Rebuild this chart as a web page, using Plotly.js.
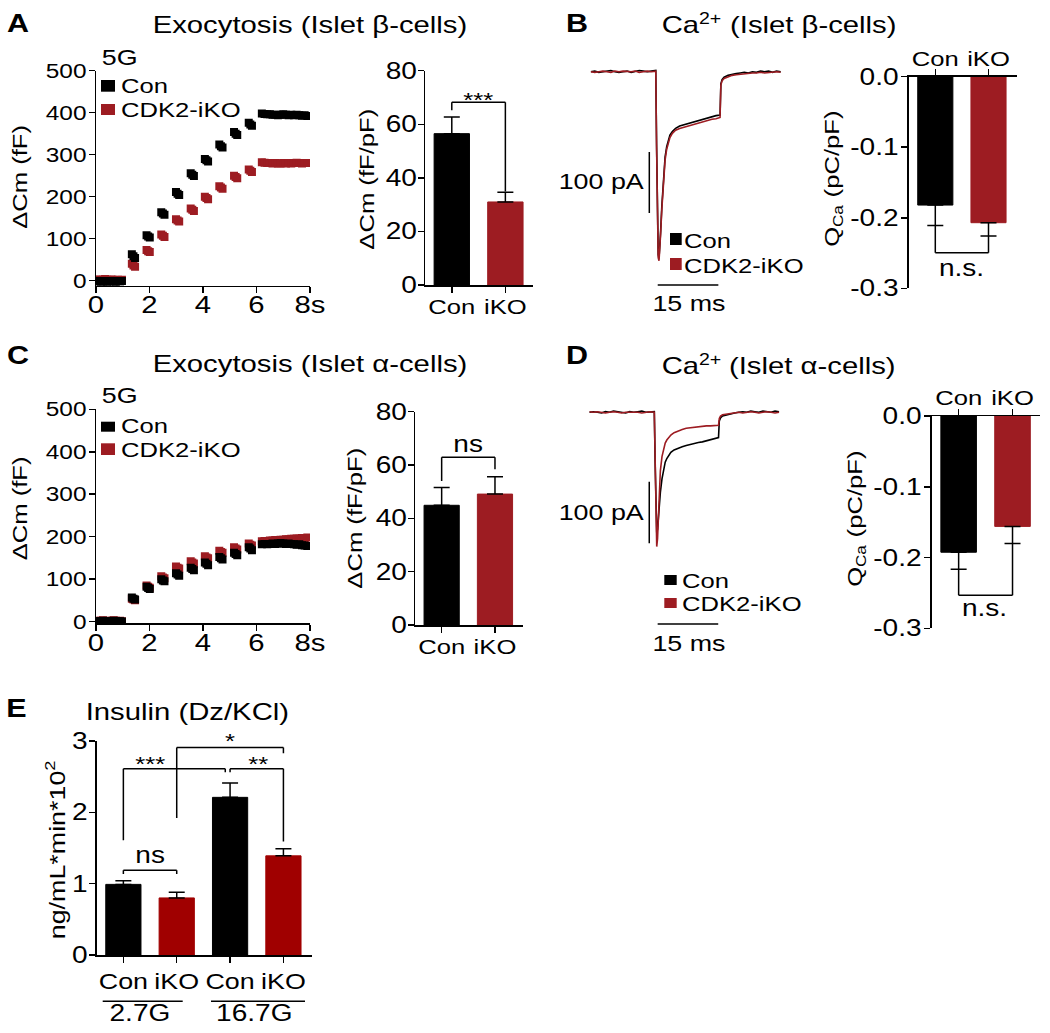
<!DOCTYPE html>
<html><head><meta charset="utf-8">
<script src="https://cdn.plot.ly/plotly-3.0.1.min.js"></script>
<style>html,body{margin:0;padding:0;background:#fff}#chart{width:1050px;height:1033px}</style>
</head><body><div id="chart"></div><script>
// ---------------- DATA ----------------
// Exocytosis (capacitance) time points, s
const exoTime = [0.02,0.1,0.18,0.26,0.34,0.42,0.5,0.58,0.66,0.74,0.82,0.9,0.97,
  1.34,1.40,1.46, 1.89,1.95,2.01, 2.44,2.50,2.56, 2.99,3.05,3.11, 3.54,3.60,3.66,
  4.07,4.13,4.19, 4.61,4.67,4.73, 5.16,5.22,5.28, 5.71,5.77,5.83,
  6.2,6.3,6.4,6.5,6.6,6.7,6.8,6.9,7.0,7.1,7.2,7.3,7.4,7.5,7.6,7.7,7.8,7.9];
// Panel A (beta cells), ΔCm fF
const exoBetaCon = [-2,-1,-3,-2,-1,-3,-2,-1,-2,-3,-1,-2,-1,
  63,58,54, 108,105,103, 163,160,157, 211,207,204, 256,252,249,
  290,287,284, 324,320,317, 354,350,347, 376,372,369,
  398,397,396,396,395,395,394,395,396,395,394,395,394,395,394,393,394,392];
const exoBetaKO = [2,3,1,2,4,2,1,3,2,1,2,1,2,
  40,36,33, 73,70,68, 110,107,104, 146,143,141, 172,169,166,
  200,197,194, 225,222,219, 250,247,244, 265,262,259,
  282,281,280,280,279,280,279,279,280,279,280,279,280,281,280,279,280,280];
// Panel C (alpha cells), ΔCm fF
const exoAlphaCon = [1,0,1,2,0,1,0,1,2,1,0,1,0,
  57,54,52, 82,79,77, 100,97,95, 114,111,108, 127,124,121,
  139,136,133, 152,149,146, 162,159,156, 175,172,168,
  182,183,182,183,184,183,184,185,184,183,184,183,182,181,182,180,179,178];
const exoAlphaKO = [2,1,2,3,1,2,1,2,3,2,1,2,1,
  54,52,50, 85,82,80, 107,104,102, 130,127,125, 142,139,137,
  154,151,149, 167,164,162, 175,172,170, 184,181,179,
  189,190,190,191,191,192,192,193,193,194,194,195,195,196,196,197,197,198];

// Bar categories and values
const groupsCK = ['Con','iKO'];
const dCmBeta = [56.5, 31.0];      const dCmBetaErr = [6.2, 3.6];
const dCmAlpha = [44.9, 49.1];     const dCmAlphaErr = [6.7, 6.5];
const qCaBeta = [-0.182, -0.207];  const qCaBetaErr = [0.029, 0.019];
const qCaAlpha = [-0.1925, -0.156];const qCaAlphaErr = [0.024, 0.024];

// Ca2+ current traces: time (ms) and current (pA)
const caTime = [0,1,2,3,4,5,6,7,8,9,10,11,12,13,14,15,16.1,
  16.3,16.5,16.7,16.9,17.1,17.3, 17.6,18.0,18.4,18.8,19.2,19.6,20.2,
  21,22,23,24,25,26,27,28,29,30,31,32, 32.2,32.5,
  33,34,35,36,37,38,39,40,41,42,43,44,45,46,47];
const caBetaCon = [0,1,-1,0,1,2,0,-1,0,1,-1,0,2,1,0,1,2,
  -120,-250,-300,-306,-290,-262, -220,-170,-140,-123,-112,-104,-98,
  -93,-89,-87,-85,-83,-81,-79,-77,-76,-74,-72,-71, -20,-13,
  -9,-6,-4,-3,-2,-1,-2,0,-1,1,0,1,-1,1,0];
const caBetaKO = [0,-1,0,1,0,-1,1,0,1,0,0,1,-1,0,1,0,1,
  -125,-255,-305,-310,-292,-266, -225,-176,-145,-127,-115,-108,-101,
  -96,-93,-91,-89,-87,-86,-84,-82,-80,-78,-77,-75, -22,-15,
  -11,-8,-6,-5,-4,-3,-3,-2,-2,-1,-2,-1,-1,0,-1];
const caAlphaCon = [0,1,0,-1,1,0,2,1,0,-1,1,0,1,2,0,1,1,
  -80,-160,-195,-190,-170,-152, -130,-108,-91,-81,-75,-70,-65,
  -61,-58,-56,-54,-52,-50,-49,-48,-46,-45,-43,-41, -14,-9,
  -6,-4,-3,-1,0,1,0,2,1,0,2,1,0,2,1];
const caAlphaKO = [1,0,1,0,-1,0,1,0,-1,0,0,1,0,-1,0,1,0,
  -95,-185,-218,-205,-165,-128, -95,-72,-58,-50,-45,-41,-37,
  -33,-30,-28,-26,-25,-24,-23,-23,-22,-22,-21,-21, -10,-6,
  -4,-3,-2,-1,0,-1,0,1,0,-1,0,1,0,-1,0];
const scaleBarPA = 100, scaleBarMS = 15;

// Panel E insulin
const insLabels = ['Con','iKO','Con','iKO'];
const insGroups = ['2.7G','16.7G'];
const insVals = [0.99, 0.80, 2.21, 1.39];
const insErr  = [0.05, 0.08, 0.20, 0.10];

const xTicksExo = [0,2,4,6,8];
const xTickTextExo = ['0','2','4','6','8s'];
const yTicksExo = [0,100,200,300,400,500];
const yTicksBar = [0,20,40,60,80];
const yTicksQ = [0,-0.1,-0.2,-0.3];
const yTickTextQ = ['0.0','-0.1','-0.2','-0.3'];

// ---------------- LAYOUT HELPERS ----------------
const FONT = 'Liberation Sans, Arial, Helvetica, sans-serif';
const W = 1050, H = 1033;
const K = 1.22; // horizontal widening of the source typeface
const px = x => x / W, py = y => 1 - y / H;
const dx = (a, b) => [px(a), px(b)];
const dy = (bottom, top) => [py(bottom), py(top)];
const RED = '#9d1c22', RED_E = '#a00000', BLACK = '#000000';
const idx = arr => arr.map((_, i) => i);

function ax(extra, fs) {
  return Object.assign({showline:true, linecolor:'#000', linewidth:1.5, ticks:'outside', ticklen:6,
    tickwidth:1.5, tickcolor:'#000', showgrid:false, zeroline:false, fixedrange:true, automargin:false,
    tickfont:{family:FONT, size:fs || 22, color:'#000'}}, extra);
}
function hidden(extra) { return Object.assign({visible:false, fixedrange:true, showgrid:false, zeroline:false}, extra); }

const traces = [];
function scat(x, y, color, xa, ya) {
  traces.push({type:'scatter', mode:'markers', x, y, xaxis:xa, yaxis:ya, showlegend:false, hoverinfo:'skip',
    marker:{symbol:'square', size:8, color, line:{width:0}}});
}
function line(x, y, color, xa, ya) {
  traces.push({type:'scatter', mode:'lines', x, y, xaxis:xa, yaxis:ya, showlegend:false, hoverinfo:'skip',
    line:{color, width:1.6}});
}
function bars(vals, err, colors, xa, ya, down, width) {
  const zeros = vals.map(() => 0);
  traces.push({type:'bar', x:idx(vals), y:vals, width:width || 0.66, xaxis:xa, yaxis:ya, showlegend:false, hoverinfo:'skip',
    marker:{color:colors, line:{color:colors, width:1}},
    error_y:{type:'data', symmetric:false, array: down ? zeros : err, arrayminus: down ? err : zeros,
      color:'#000', thickness:1.5, width:8}});
}

// Panel A
scat(exoTime, exoBetaKO, RED, 'x', 'y');
scat(exoTime, exoBetaCon, BLACK, 'x', 'y');
bars(dCmBeta, dCmBetaErr, [BLACK, RED], 'x2', 'y2', false);
// Panel B
line(caTime, caBetaCon, BLACK, 'x3', 'y3');
line(caTime, caBetaKO, RED, 'x3', 'y3');
bars(qCaBeta, qCaBetaErr, [BLACK, RED], 'x4', 'y4', true);
// Panel C
scat(exoTime, exoAlphaKO, RED, 'x5', 'y5');
scat(exoTime, exoAlphaCon, BLACK, 'x5', 'y5');
bars(dCmAlpha, dCmAlphaErr, [BLACK, RED], 'x6', 'y6', false);
// Panel D
line(caTime, caAlphaCon, BLACK, 'x7', 'y7');
line(caTime, caAlphaKO, RED, 'x7', 'y7');
bars(qCaAlpha, qCaAlphaErr, [BLACK, RED], 'x8', 'y8', true);
// Panel E
bars(insVals, insErr, [BLACK, RED_E, BLACK, RED_E], 'x9', 'y9', false);

// ---------------- SHAPES & ANNOTATIONS ----------------
const shapes = [], annotations = [];
function seg(xref, yref, x0, y0, x1, y1, w) {
  shapes.push({type:'line', xref, yref, x0, y0, x1, y1, line:{color:'#000', width:w || 1.5}});
}
function bracket(xa, ya, x0, yL, x1, yR, level) {
  seg(xa, ya, x0, yL, x0, level); seg(xa, ya, x0, level, x1, level); seg(xa, ya, x1, level, x1, yR);
}
function rectPx(x0, y0, x1, y1, color) {
  shapes.push({type:'rect', xref:'paper', yref:'paper', x0:px(x0), x1:px(x1), y0:py(y1), y1:py(y0),
    fillcolor:color, line:{width:0}});
}
function ann(text, x, y, size, opts) {
  annotations.push(Object.assign({xref:'paper', yref:'paper', x:px(x), y:py(y), text, showarrow:false,
    font:{family:FONT, size, color:'#000'}, xanchor:'center', yanchor:'middle'}, opts || {}));
}
function annData(text, xa, ya, x, y, size, yshift) {
  annotations.push({xref:xa, yref:ya, x, y, text, showarrow:false, yshift:yshift || 0,
    font:{family:FONT, size, color:'#000'}, xanchor:'center', yanchor:'middle'});
}

// panel letters & titles
[['A',18,22.5],['B',577,22.5],['C',18,355],['D',577,355],['E',16.5,708]].forEach(p => ann('<b>'+p[0]+'</b>', p[1], p[2], 25));
ann('Exocytosis (Islet β-cells)', 310, 25, 24);
ann('Exocytosis (Islet α-cells)', 310, 363, 24);
ann('Insulin (Dz/KCl)', 187, 711, 24);
// "Ca" + raised "2+" + rest, laid out left to right
function caTitle(xc, yc, rest) {
  const fs = 24, fsSup = 16;
  const wCa = 1.278 * fs * K, wSup = 1.14 * fsSup * K, wSp = 0.278 * fs * K, wRest = 5.685 * fs * K;
  const start = xc - (wCa + wSup + wSp + wRest) / 2;
  ann('Ca', start + wCa / 2, yc, fs);
  ann('2+', start + wCa + wSup / 2, yc - 6, fsSup);
  ann(rest, start + wCa + wSup + wSp + wRest / 2, yc, fs);
}
caTitle(779, 25, '(Islet β-cells)');
caTitle(779, 365, '(Islet α-cells)');
ann('5G', 119, 57, 22);
ann('5G', 119, 395, 22);

// legends
function legend(x0, x1, rows) {
  rows.forEach(r => { rectPx(x0, r.y0, x1, r.y1, r.c); ann(r.t, r.tx, r.ty, 21, {xanchor:'left', align:'left'}); });
}
legend(101, 115, [{y0:80, y1:91.7, c:BLACK, t:'Con', tx:119, ty:86}, {y0:104, y1:115, c:RED, t:'CDK2-iKO', tx:119, ty:109.5}]);
legend(101, 115, [{y0:421.7, y1:431.7, c:BLACK, t:'Con', tx:119, ty:425.7}, {y0:443.3, y1:455, c:RED, t:'CDK2-iKO', tx:119, ty:449}]);
legend(670, 681.7, [{y0:233, y1:245, c:BLACK, t:'Con', tx:682, ty:240}, {y0:258, y1:270, c:RED, t:'CDK2-iKO', tx:682, ty:265}]);
legend(664.3, 676.7, [{y0:575, y1:585, c:BLACK, t:'Con', tx:680, ty:580}, {y0:598, y1:608, c:RED, t:'CDK2-iKO', tx:680, ty:603.3}]);

// y-axis titles
const rot = {textangle:-90};
ann('ΔCm (fF)', 19, 177.5, 21, rot);
ann('ΔCm (fF/pF)', 366, 179, 21, rot);
ann('ΔCm (fF)', 19, 509, 21, rot);
ann('ΔCm (fF/pF)', 354, 518, 21, rot);
function qTitle(xc, yc) {
  const fs = 21, fsSub = 14;
  const wQ = 0.778 * fs * K, wCa = 1.278 * fsSub * K, wSp = 0.278 * fs * K, wP = 3.389 * fs * K;
  const start = yc + (wQ + wCa + wSp + wP) / 2;
  ann('Q', xc, start - wQ / 2, fs, rot);
  ann('Ca', xc + 6, start - wQ - wCa / 2, fsSub, rot);
  ann('(pC/pF)', xc, start - wQ - wCa - wSp - wP / 2, fs, rot);
}
qTitle(832, 179);
qTitle(855, 519);
function insTitle(xc, yc) {
  const fs = 22, fsSup = 15;
  const wMain = 6.28 * fs * K, wSup = 0.556 * fsSup * K;
  const start = yc + (wMain + wSup) / 2;
  ann('ng/mL*min*10', xc, start - wMain / 2, fs, rot);
  ann('2', xc - 7, start - wMain - wSup / 2, fsSup, rot);
}
insTitle(57, 850);

// scale bars (B: x3/y3, D: x7/y7)
seg('x3','y3', 14.5, -131.6, 14.5, -131.6 - scaleBarPA);
seg('x3','y3', 16.58, -349.7, 16.58 + scaleBarMS, -349.7);
seg('x7','y7', 14.85, -112.7, 14.85, -112.7 - scaleBarPA);
seg('x7','y7', 16.93, -343.6, 16.93 + scaleBarMS, -343.6);
ann(scaleBarPA + ' pA', 646, 182, 22, {xanchor:'right', align:'right'});
ann(scaleBarPA + ' pA', 646, 512, 22, {xanchor:'right', align:'right'});
ann(scaleBarMS + ' ms', 689, 304, 22);
ann(scaleBarMS + ' ms', 689, 643, 22);

// significance brackets
bracket('x2','y2', 0, dCmBeta[0] + dCmBetaErr[0] + 2.5, 1, dCmBeta[1] + dCmBetaErr[1] + 0.3, 68.2);
annData('***', 'x2','y2', 0.5, 68.2, 21, 3);
bracket('x6','y6', 0, dCmAlpha[0] + dCmAlphaErr[0] + 2.4, 1, dCmAlpha[1] + dCmAlphaErr[1] + 2.8, 62.9);
annData('ns', 'x6','y6', 0.5, 62.9, 23, 13);
bracket('x4','y4', 0, qCaBeta[0] - qCaBetaErr[0], 1, qCaBeta[1] - qCaBetaErr[1], -0.2497);
annData('n.s.', 'x4','y4', 0.5, -0.2497, 23, -15);
bracket('x8','y8', 0, qCaAlpha[0] - qCaAlphaErr[0], 1, qCaAlpha[1] - qCaAlphaErr[1], -0.2532);
annData('n.s.', 'x8','y8', 0.48, -0.2532, 23, -13);
bracket('x9','y9', 0, 1.136, 1, 1.136, 1.188);
annData('ns', 'x9','y9', 0.5, 1.188, 23, 15);
bracket('x9','y9', 0, 1.61, 1.91, 2.562, 2.61);
annData('***', 'x9','y9', 0.5, 2.61, 21, 5);
bracket('x9','y9', 2.0, 2.562, 3, 1.59, 2.61);
annData('**', 'x9','y9', 2.52, 2.61, 21, 5);
bracket('x9','y9', 1, 1.92, 3, 2.83, 2.91);
annData('*', 'x9','y9', 2.0, 2.91, 21, 7);

// E group labels
shapes.push({type:'line', xref:'paper', yref:'paper', x0:px(102.7), x1:px(182.7), y0:py(1001.3), y1:py(1001.3), line:{color:'#000', width:1.5}});
shapes.push({type:'line', xref:'paper', yref:'paper', x0:px(211), x1:px(305), y0:py(1001.3), y1:py(1001.3), line:{color:'#000', width:1.5}});
ann(insGroups[0], 140, 1013, 23);
ann(insGroups[1], 254, 1013, 23);

// ---------------- AXES ----------------
const layout = {
  width: W, height: H, margin:{l:0, r:0, t:0, b:0}, paper_bgcolor:'#fff', plot_bgcolor:'rgba(0,0,0,0)',
  font:{family:FONT, color:'#000'}, showlegend:false, bargap:0,
  // A
  xaxis: ax({domain:dx(96,310), range:[0,8], anchor:'y', tickvals:xTicksExo, ticktext:xTickTextExo, ticklabelstandoff:-9}, 24),
  yaxis: ax({domain:dy(285.7,70.7), range:[-12,500], anchor:'x', tickvals:yTicksExo, ticklabelstandoff:-2}, 20),
  xaxis2: ax({domain:dx(425,532.7), range:[-0.5,1.51], anchor:'y2', tickvals:idx(groupsCK), ticktext:groupsCK, ticklabelstandoff:-4}, 21),
  yaxis2: ax({domain:dy(285,70.7), range:[0,80], anchor:'x2', tickvals:yTicksBar, ticklabelstandoff:-4}, 23),
  // B
  xaxis3: hidden({domain:dx(590.7,782.7), range:[0,47.5], anchor:'y3'}),
  yaxis3: hidden({domain:dy(300,50), range:[-374.3,35.6], anchor:'x3'}),
  xaxis4: ax({domain:dx(908.7,1016.7), range:[-0.5,1.53], anchor:'y4', side:'top', tickvals:idx(groupsCK), ticktext:groupsCK, ticklabelstandoff:-5}, 21),
  yaxis4: ax({domain:dy(288.3,76.7), range:[-0.3,0], anchor:'x4', tickvals:yTicksQ, ticktext:yTickTextQ, ticklabelstandoff:-2}, 23),
  // C
  xaxis5: ax({domain:dx(96,310), range:[0,8], anchor:'y5', tickvals:xTicksExo, ticktext:xTickTextExo, ticklabelstandoff:-9}, 24),
  yaxis5: ax({domain:dy(623.3,409.3), range:[-4,500], anchor:'x5', tickvals:yTicksExo, ticklabelstandoff:-2}, 20),
  xaxis6: ax({domain:dx(415,522.7), range:[-0.5,1.52], anchor:'y6', tickvals:idx(groupsCK), ticktext:groupsCK, ticklabelstandoff:-4}, 21),
  yaxis6: ax({domain:dy(625,411.7), range:[0,80], anchor:'x6', tickvals:yTicksBar, ticklabelstandoff:-4}, 23),
  // D
  xaxis7: hidden({domain:dx(589.3,782.3), range:[0,47.8], anchor:'y7'}),
  yaxis7: hidden({domain:dy(640,390), range:[-369.6,36.2], anchor:'x7'}),
  xaxis8: ax({domain:dx(931.7,1040), range:[-0.5,1.51], anchor:'y8', side:'top', tickvals:idx(groupsCK), ticktext:groupsCK, ticklabelstandoff:-5}, 21),
  yaxis8: ax({domain:dy(628.3,416), range:[-0.3,0], anchor:'x8', tickvals:yTicksQ, ticktext:yTickTextQ, ticklabelstandoff:-2}, 23),
  // E
  xaxis9: ax({domain:dx(96.7,311.7), range:[-0.5,3.53], anchor:'y9', tickvals:idx(insLabels), ticktext:insLabels}, 22),
  yaxis9: ax({domain:dy(955,741), range:[0,3], anchor:'x9', tickvals:[0,1,2,3], ticklabelstandoff:-3}, 23),
  shapes, annotations
};

// Source figure uses a horizontally extended sans-serif; widen glyphs along the text direction.
function stretchText(root, k) {
  root.querySelectorAll('text').forEach(t => {
    if (!t.textContent || !t.textContent.trim() || t.getAttribute('data-st')) return;
    let len = 0;
    try { len = t.getComputedTextLength(); } catch (e) { return; }
    if (!(len > 0)) return;
    const b0 = t.getBBox();
    const anchor = t.getAttribute('text-anchor') || getComputedStyle(t).textAnchor || 'start';
    t.setAttribute('textLength', (len * k).toFixed(2));
    t.setAttribute('lengthAdjust', 'spacingAndGlyphs');
    t.setAttribute('data-st', '1');
    const b1 = t.getBBox();
    const ref = b => anchor === 'end' ? b.x + b.width : (anchor === 'middle' ? b.x + b.width / 2 : b.x);
    const d = ref(b0) - ref(b1);
    if (Math.abs(d) > 0.5) t.setAttribute('x', (parseFloat(t.getAttribute('x') || '0') + d).toFixed(2));
  });
}

Plotly.newPlot('chart', traces, layout, {staticPlot:true, displayModeBar:false, responsive:false})
  .then(gd => stretchText(gd, K));
</script></body></html>
